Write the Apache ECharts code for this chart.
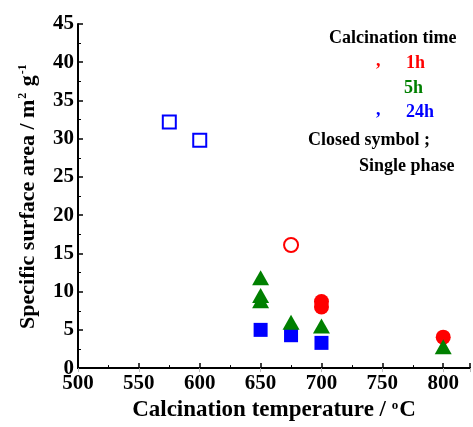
<!DOCTYPE html>
<html>
<head>
<meta charset="utf-8">
<script src="https://cdn.jsdelivr.net/npm/echarts@6/dist/echarts.min.js"></script>
<style>
  html, body { margin: 0; padding: 0; background: #fff; }
  #chart { width: 473px; height: 427px; }
</style>
</head>
<body>
<div id="chart"></div>
<script>
// data
var open24h = [[575, 32.2], [600, 29.8]];
var open1h = [[675, 16.1]];
var closed1h = [[700, 8.7], [700, 8.0], [800, 4.05]];
var closed5h = [[650, 11.8], [650, 9.5], [650, 8.8], [675, 6.0], [700, 5.5], [800, 2.8]];
var closed24h = [[650, 5.0], [675, 4.3], [700, 3.3]];

var legendTitle = 'Calcination time';
var legendItems = ['1h', '5h', '24h'];
var legendColors = ['#ff0000', '#008000', '#0000ff'];
var noteLines = ['Closed symbol ;', 'Single phase'];

var font = '"Liberation Serif", "DejaVu Serif", serif';
var lf = 'bold 18px ' + font;
var chart = echarts.init(document.getElementById('chart'));

var graphics = [
  { type: 'text', left: 329, top: 29, style: { text: legendTitle, font: lf, fill: '#000' } },
  { type: 'text', left: 376, top: 52, style: { text: ',', font: lf, fill: legendColors[0] } },
  { type: 'text', left: 406, top: 54, style: { text: legendItems[0], font: lf, fill: legendColors[0] } },
  { type: 'text', left: 404, top: 79, style: { text: legendItems[1], font: lf, fill: legendColors[1] } },
  { type: 'text', left: 376, top: 101, style: { text: ',', font: lf, fill: legendColors[2] } },
  { type: 'text', left: 406, top: 103, style: { text: legendItems[2], font: lf, fill: legendColors[2] } },
  { type: 'text', left: 308, top: 131, style: { text: noteLines[0], font: lf, fill: '#000' } },
  { type: 'text', left: 359, top: 157, style: { text: noteLines[1], font: lf, fill: '#000' } }
];

var option = {
  animation: false,
  grid: { left: 78, right: 3, top: 24, bottom: 56 },
  xAxis: [{
    type: 'value', min: 500, max: 822, interval: 50,
    axisLine: { show: true, onZero: false, lineStyle: { color: '#000', width: 2 } },
    axisTick: { inside: true, length: 5, lineStyle: { color: '#000', width: 1.5 } },
    minorTick: { show: true, splitNumber: 2, length: 3, lineStyle: { color: '#000' } },
    splitLine: { show: false },
    axisLabel: { color: '#000', fontFamily: font, fontWeight: 'bold', fontSize: 21, margin: 5, showMaxLabel: false },
    name: '{a|Calcination temperature / }{s|o}{a|C}',
    nameLocation: 'middle', nameGap: 28,
    nameTextStyle: {
      rich: {
        a: { fontFamily: font, fontWeight: 'bold', fontSize: 23, color: '#000' },
        s: { fontFamily: font, fontWeight: 'bold', fontSize: 13, color: '#000', verticalAlign: 'top', padding: [0, 1, 10, 0] }
      }
    }
  }, {
    type: 'value', position: 'top', min: 500, max: 822, interval: 50,
    axisLine: { show: true, lineStyle: { color: '#000', width: 2 } },
    axisTick: { inside: true, length: 4, lineStyle: { color: '#bbb' } },
    axisLabel: { show: false }, splitLine: { show: false }
  }],
  yAxis: {
    type: 'value', min: 0, max: 45, interval: 5,
    axisLine: { show: true, onZero: false, lineStyle: { color: '#000', width: 2 } },
    axisTick: { inside: true, length: 5, lineStyle: { color: '#000', width: 1.5 } },
    minorTick: { show: true, splitNumber: 2, length: 3, lineStyle: { color: '#000' } },
    splitLine: { show: false },
    axisLabel: { color: '#000', fontFamily: font, fontWeight: 'bold', fontSize: 21, margin: 4 },
    name: '{a|Specific surface area / m}{s|2}{a| g}{s|-1}',
    nameLocation: 'middle', nameGap: 39,
    nameTextStyle: {
      rich: {
        a: { fontFamily: font, fontWeight: 'bold', fontSize: 22, color: '#000' },
        s: { fontFamily: font, fontWeight: 'bold', fontSize: 12, color: '#000', verticalAlign: 'top', padding: [0, 1, 10, 1] }
      }
    }
  },
  graphic: graphics,
  series: [
    { type: 'scatter', data: open24h, symbol: 'rect', symbolSize: 13,
      itemStyle: { color: '#fff', borderColor: '#0000ff', borderWidth: 2, opacity: 1 } },
    { type: 'scatter', data: open1h, symbol: 'circle', symbolSize: 14,
      itemStyle: { color: '#fff', borderColor: '#ff0000', borderWidth: 2, opacity: 1 } },
    { type: 'scatter', data: closed24h, symbol: 'rect', symbolSize: 14,
      itemStyle: { color: '#0000ff', opacity: 1 } },
    { type: 'scatter', data: closed1h, symbol: 'circle', symbolSize: 15,
      itemStyle: { color: '#ff0000', opacity: 1 } },
    { type: 'scatter', data: closed5h, symbol: 'triangle', symbolSize: [17, 15],
      itemStyle: { color: '#008000', opacity: 1 } }
  ]
};
chart.setOption(option);
</script>
</body>
</html>
